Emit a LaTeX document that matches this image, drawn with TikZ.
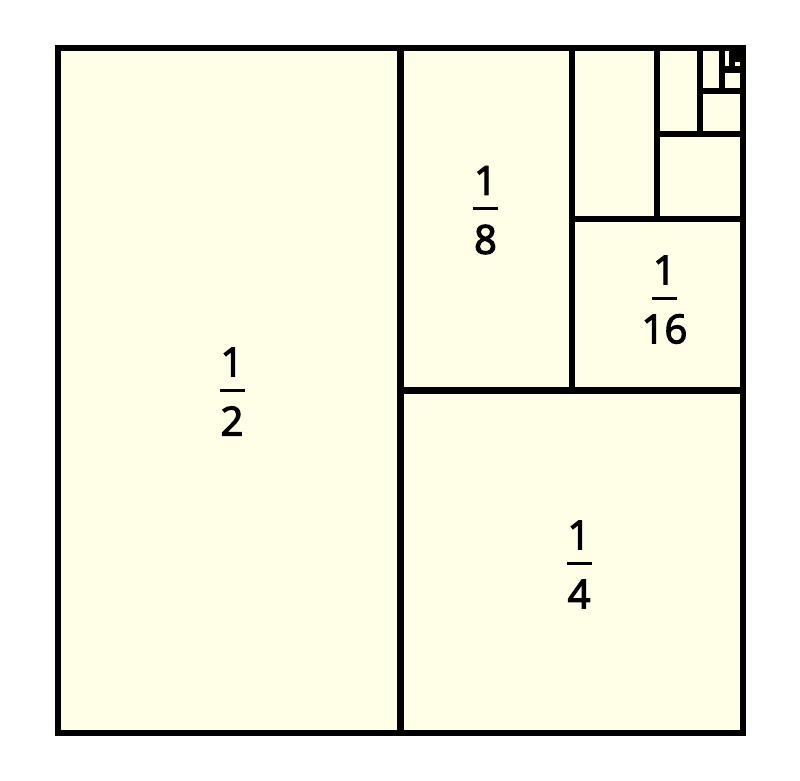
\documentclass[tikz,border=0pt]{standalone}
\usepackage{fontspec}
\setmainfont{Open Sans}
\newfontfamily\digitfont{Open Sans}[FakeBold=3]
\definecolor{paper}{RGB}{255,255,232}
\tikzset{
  frame/.style={line width=6.2pt, line cap=rect},
  digit/.style={inner sep=0pt, font=\digitfont\fontsize{40}{46}\selectfont},
  fbar/.style={line width=3pt}
}
\newcommand{\fraclabel}[4]{%
  \node[digit] (#1n) at (#2,#3-28) {1};
  \coordinate (#1a) at (#2-12.5,#3);
  \coordinate (#1b) at (#2+12.5,#3);
  \draw[fbar] (#1a) -- (#1b);
  \node[digit] (#1d) at (#2,#3+31) {#4};
}
\begin{document}
\begin{tikzpicture}[x=1pt,y=-1pt]
\useasboundingbox (0,0) rectangle (800,780);
\fill[white] (0,0) rectangle (800,780);
\fill[paper] (58,48) rectangle (743,733);
% subdivision lines
\draw[frame] (400.5,48) -- (400.5,733);
\draw[frame] (400.5,390.5) -- (743,390.5);
\draw[frame] (571.75,48) -- (571.75,390.5);
\draw[frame] (571.75,219.25) -- (743,219.25);
\draw[frame] (657.375,48) -- (657.375,219.25);
\draw[frame] (657.375,133.625) -- (743,133.625);
\draw[frame] (700.19,48) -- (700.19,133.625);
\draw[frame] (700.19,90.81) -- (743,90.81);
\draw[frame] (721.6,48) -- (721.6,90.81);
\draw[frame] (721.6,69.4) -- (743,69.4);
\draw[frame] (732.3,48) -- (732.3,69.4);
\draw[frame] (732.3,58.7) -- (743,58.7);
\draw[frame] (737.65,48) -- (737.65,58.7);
\draw[frame] (737.65,53.35) -- (743,53.35);
% outer square
\draw[frame, line join=miter] (58,48) rectangle (743,733);
% labels
\fraclabel{h}{232}{390}{2}
\fraclabel{q}{579}{563}{4}
\fraclabel{e}{485.5}{208.5}{8}
\fraclabel{s}{664.5}{298}{16}
\end{tikzpicture}
\end{document}
